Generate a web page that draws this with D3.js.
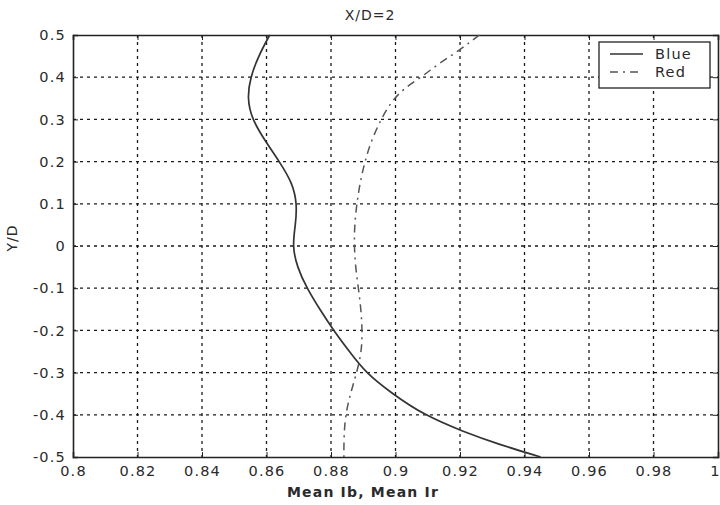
<!DOCTYPE html>
<html><head><meta charset="utf-8">
<script src="https://cdn.jsdelivr.net/npm/d3@7"></script>
<style>body{margin:0;background:#fff;} text{font-family:"DejaVu Sans",Verdana,sans-serif;fill:#2a2a2a;}</style>
</head><body>
<svg id="c" width="720" height="505"></svg>
<script>
const xTicks = [0.8,0.82,0.84,0.86,0.88,0.9,0.92,0.94,0.96,0.98,1];
const xTickLabels = ["0.8","0.82","0.84","0.86","0.88","0.9","0.92","0.94","0.96","0.98","1"];
const yTicks = [-0.5,-0.4,-0.3,-0.2,-0.1,0,0.1,0.2,0.3,0.4,0.5];
const yTickLabels = ["-0.5","-0.4","-0.3","-0.2","-0.1","0","0.1","0.2","0.3","0.4","0.5"];
const blueY = [0.5,0.45,0.4,0.35,0.3,0.25,0.2,0.15,0.1,0.05,0,-0.05,-0.1,-0.15,-0.2,-0.25,-0.3,-0.35,-0.4,-0.44,-0.47,-0.5];
const blueX = [0.861,0.8575,0.855,0.854,0.8555,0.8595,0.864,0.868,0.8695,0.869,0.868,0.8695,0.8725,0.8765,0.8808,0.8857,0.8907,0.899,0.9087,0.921,0.932,0.945];
const redY = [0.5,0.463,0.43,0.4,0.373,0.34,0.3,0.25,0.2,0.15,0.1,0.05,0,-0.05,-0.1,-0.15,-0.2,-0.25,-0.3,-0.35,-0.4,-0.45,-0.5];
const redX = [0.926,0.9197,0.913,0.908,0.9025,0.8985,0.8955,0.8925,0.8905,0.889,0.888,0.8873,0.8872,0.8876,0.8885,0.8893,0.8897,0.8895,0.888,0.886,0.8845,0.884,0.884];
const seriesNames = ["Blue","Red"];

const svg = d3.select("#c");
const L=73, R=718, T=35, B=457;
const x = d3.scaleLinear().domain([0.8,1]).range([L,R]);
const y = d3.scaleLinear().domain([-0.5,0.5]).range([B,T]);

// grid
const grid = svg.append("g").attr("stroke","#1a1a1a").attr("stroke-width",1.3).attr("stroke-dasharray","3,4");
grid.selectAll("line.v").data(xTicks.slice(1,-1)).join("line").attr("class","v")
  .attr("x1",d=>x(d)).attr("x2",d=>x(d)).attr("y1",T).attr("y2",B);
grid.selectAll("line.h").data(yTicks.slice(1,-1)).join("line")
  .attr("class","h").attr("y1",d=>y(d)).attr("y2",d=>y(d)).attr("x1",L).attr("x2",R);

// axes
const fmtX = (d,i)=>xTickLabels[i];
const fmtY = (d,i)=>yTickLabels[i];
const gx = svg.append("g").attr("transform",`translate(0,${B})`)
  .call(d3.axisBottom(x).tickValues(xTicks).tickFormat(fmtX).tickSize(-5).tickPadding(9));
const gxt = svg.append("g").attr("transform",`translate(0,${T})`)
  .call(d3.axisTop(x).tickValues(xTicks).tickFormat("").tickSize(-5));
const gy = svg.append("g").attr("transform",`translate(${L},0)`)
  .call(d3.axisLeft(y).tickValues(yTicks).tickFormat(fmtY).tickSize(-5).tickPadding(7));
const gyr = svg.append("g").attr("transform",`translate(${R},0)`)
  .call(d3.axisRight(y).tickValues(yTicks).tickFormat("").tickSize(-5));
[gx,gxt,gy,gyr].forEach(g=>{
  g.selectAll("path").attr("stroke","#222").attr("stroke-width",1.6);
  g.selectAll("line").attr("stroke","#222");
  g.selectAll("text").style("font-size","14.5px").style("letter-spacing","1.2px").attr("fill","#333");
});
gx.selectAll("text").filter((d,i)=>i===xTicks.length-1).attr("dx","-3");

// curves
const ln = d3.line().x(d=>x(d[0])).y(d=>y(d[1])).curve(d3.curveBasis);
svg.append("path").datum(blueX.map((v,i)=>[v,blueY[i]]))
  .attr("d",ln).attr("fill","none").attr("stroke","#333").attr("stroke-width",1.7);
svg.append("path").datum(redX.map((v,i)=>[v,redY[i]]))
  .attr("d",ln).attr("fill","none").attr("stroke","#555").attr("stroke-width",1.5)
  .attr("stroke-dasharray","8,5,2,5");

// legend
const lg = svg.append("g");
lg.append("rect").attr("x",599).attr("y",42).attr("width",111).attr("height",46)
  .attr("fill","#fff").attr("stroke","#222").attr("stroke-width",1.3);
lg.append("line").attr("x1",610).attr("x2",643).attr("y1",54).attr("y2",54).attr("stroke","#333").attr("stroke-width",1.4);
lg.append("line").attr("x1",610).attr("x2",643).attr("y1",72).attr("y2",72).attr("stroke","#555").attr("stroke-width",1.4).attr("stroke-dasharray","8,5,2,5");
lg.selectAll("text").data(seriesNames).join("text")
  .attr("x",655).attr("y",(d,i)=>59+i*18).text(d=>d).style("font-size","14.5px").style("letter-spacing","1.2px");

// titles
svg.append("text").attr("x",370).attr("y",20).attr("text-anchor","middle").style("font-size","14px").style("letter-spacing","1px").text("X/D=2");
svg.append("text").attr("x",363).attr("y",497).attr("text-anchor","middle").style("font-size","14px").style("font-weight","600").style("letter-spacing","1.2px").text("Mean Ib, Mean Ir");
svg.append("text").attr("transform","translate(17,238) rotate(-90)").attr("text-anchor","middle").style("font-size","14px").style("letter-spacing","1px").text("Y/D");
</script>
</body></html>
